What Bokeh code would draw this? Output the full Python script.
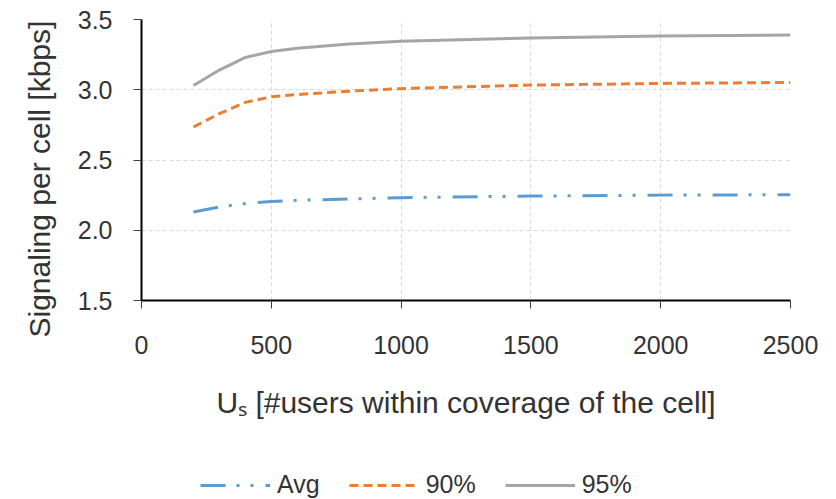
from bokeh.plotting import figure
from bokeh.models import Range1d, FixedTicker, NumeralTickFormatter, Legend, LegendItem, Title
from bokeh.layouts import column
from bokeh.embed import file_html
from bokeh.resources import INLINE

users = [200, 300, 400, 500, 600, 800, 1000, 1500, 2000, 2500]
avg = [2.13, 2.165, 2.19, 2.205, 2.213, 2.222, 2.232, 2.243, 2.25, 2.253]
p90 = [2.735, 2.83, 2.91, 2.95, 2.966, 2.99, 3.008, 3.033, 3.045, 3.052]
p95 = [3.03, 3.14, 3.23, 3.272, 3.295, 3.325, 3.345, 3.368, 3.382, 3.39]
x_ticks = [0, 500, 1000, 1500, 2000, 2500]
y_ticks = [1.5, 2.0, 2.5, 3.0, 3.5]
names = ["Avg", "90%", "95%"]

FONT = "Liberation Sans"
TXT = "#333333"
STYLES = [dict(line_color="#5b9bd5", line_width=3, line_dash="25 11 3 11 3 12"),
          dict(line_color="#ed7d31", line_width=3, line_dash="9 5"),
          dict(line_color="#a5a5a5", line_width=3)]

p = figure(width=836, height=440, output_backend="svg", toolbar_location=None,
           x_range=Range1d(0, 2500), y_range=Range1d(1.5, 3.5),
           min_border_left=141, min_border_right=46, min_border_top=19,
           min_border_bottom=140)
p.outline_line_color = None

for series, st in zip([avg, p90, p95], STYLES):
    p.line(users, series, **st)

for ax in (p.xaxis[0], p.yaxis[0]):
    ax.axis_line_color = "black"
    ax.axis_line_width = 2
    ax.major_tick_line_color = "#404040"
    ax.major_tick_line_width = 1
    ax.major_tick_in = 0
    ax.major_tick_out = 8
    ax.minor_tick_line_color = None
    ax.major_label_text_font = FONT
    ax.major_label_text_font_size = "25px"
    ax.major_label_text_color = TXT
    ax.axis_label_text_font = FONT
    ax.axis_label_text_font_size = "30px"
    ax.axis_label_text_font_style = "normal"
    ax.axis_label_text_color = TXT

p.xaxis.ticker = FixedTicker(ticks=x_ticks)
p.yaxis.ticker = FixedTicker(ticks=y_ticks)
p.yaxis.formatter = NumeralTickFormatter(format="0.0")
p.xaxis.major_label_standoff = 27
p.yaxis.major_label_standoff = 21
p.xaxis.axis_label = "U\u209b [#users within coverage of the cell]"
p.xaxis.axis_label_standoff = 29

# y-axis title as a side title, anchored near the bottom as in the reference
ytitle = Title(text="Signaling per cell [kbps]", align="left", offset=-37,
               vertical_align="bottom", standoff=37,
               text_font=FONT, text_font_size="30px", text_font_style="normal",
               text_color=TXT)
p.add_layout(ytitle, "left")

for g in (p.xgrid, p.ygrid):
    g.grid_line_color = "#d9d9d9"
    g.grid_line_width = 1
    g.grid_line_dash = "4 3"

# legend strip (its lines lie outside its view; only the legend shows)
q = figure(width=836, height=59, output_backend="svg", toolbar_location=None,
           x_axis_type=None, y_axis_type=None, min_border=0,
           x_range=Range1d(0, 1), y_range=Range1d(10, 11))
q.outline_line_color = None
q.xgrid.visible = False
q.ygrid.visible = False
items = []
for name, series, st in zip(names, [avg, p90, p95], STYLES):
    r = q.line(users, series, **st)
    items.append(LegendItem(label=name, renderers=[r]))
legend = Legend(items=items, orientation="horizontal", location=(59, 0),
                glyph_width=70, glyph_height=20, label_standoff=7, spacing=29,
                label_text_font=FONT, label_text_font_size="25px", label_text_color=TXT,
                border_line_color=None, background_fill_alpha=0, padding=0, margin=0)
q.add_layout(legend, "center")

layout = column(p, q, spacing=0)
open("out.html", "w").write(file_html(layout, INLINE))
